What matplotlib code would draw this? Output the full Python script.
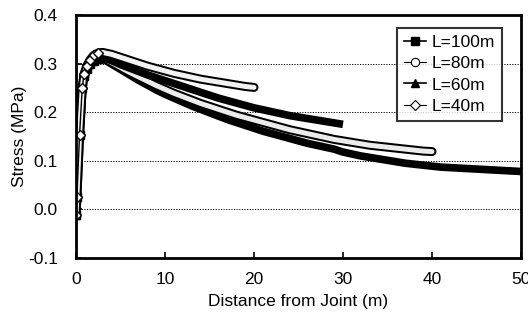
import matplotlib
matplotlib.use("Agg")
import matplotlib.pyplot as plt
import matplotlib.patheffects as pe
from matplotlib.lines import Line2D

plt.rcParams['font.family'] = ['Liberation Sans', 'DejaVu Sans']

rise_x = [0, 0.1, 0.4, 0.7, 0.9, 1.2, 1.6, 2.0, 2.5]

x100 = rise_x + list(range(3, 51))
y100 = [-0.012, 0.026, 0.154, 0.25, 0.274, 0.288, 0.299, 0.306, 0.309,
        0.310, 0.299, 0.288, 0.277, 0.266, 0.256, 0.246, 0.237, 0.229, 0.221,
        0.213, 0.206, 0.199, 0.192, 0.185, 0.179, 0.173, 0.167, 0.161, 0.156,
        0.151, 0.146, 0.141, 0.136, 0.132, 0.128, 0.124, 0.118, 0.114, 0.110,
        0.107, 0.104, 0.101, 0.098, 0.095, 0.093, 0.091, 0.089, 0.087, 0.086,
        0.085, 0.084, 0.083, 0.082, 0.081, 0.080, 0.079, 0.078]

x80 = rise_x + list(range(3, 41))
y80 = [-0.012, 0.026, 0.154, 0.25, 0.275, 0.290, 0.301, 0.308, 0.311,
       0.312, 0.302, 0.292, 0.282, 0.273, 0.264, 0.255, 0.247, 0.239, 0.232,
       0.225, 0.218, 0.212, 0.206, 0.200, 0.194, 0.189, 0.184, 0.179, 0.174,
       0.169, 0.164, 0.160, 0.156, 0.152, 0.148, 0.144, 0.141, 0.138, 0.135,
       0.132, 0.130, 0.128, 0.126, 0.124, 0.122, 0.120, 0.119]

x60 = rise_x + list(range(3, 31))
y60 = [-0.012, 0.026, 0.154, 0.25, 0.276, 0.292, 0.303, 0.310, 0.313,
       0.313, 0.306, 0.298, 0.291, 0.284, 0.277, 0.271, 0.265, 0.259, 0.253,
       0.247, 0.241, 0.235, 0.229, 0.224, 0.219, 0.214, 0.209, 0.205, 0.201,
       0.197, 0.193, 0.190, 0.187, 0.184, 0.181, 0.178, 0.175]

x40 = rise_x + list(range(3, 21))
y40 = [-0.012, 0.026, 0.154, 0.25, 0.278, 0.295, 0.308, 0.317, 0.322,
       0.323, 0.319, 0.313, 0.307, 0.301, 0.295, 0.290, 0.285, 0.280, 0.276,
       0.272, 0.268, 0.265, 0.262, 0.259, 0.256, 0.253, 0.251]

labels = ['L=100m', 'L=80m', 'L=60m', 'L=40m']
xticks = [0, 10, 20, 30, 40, 50]
yticks = [-0.1, 0.0, 0.1, 0.2, 0.3, 0.4]

fig = plt.figure(figsize=(5.28, 3.22), dpi=100)
ax = fig.add_axes([76/528, 1-258/322, (521-76)/528, (258-15)/322])

for g in [0.0, 0.1, 0.2, 0.3]:
    ax.axhline(g, color='black', lw=0.7, ls=(0, (1.2, 1.5)), zorder=1)

fs = 12.5
n_rise = len(rise_x)
early = list(range(n_rise))

# black bands
ax.plot(x100, y100, color='black', lw=5.5, solid_capstyle='butt', marker='s', ms=5.5,
        mfc='black', mec='black', markevery=early, zorder=3)
ax.plot(x60, y60, color='black', lw=5.5, solid_capstyle='butt', marker='^', ms=6,
        mfc='black', mec='black', markevery=early, zorder=5)
# open bands
open_fx = [pe.Stroke(linewidth=6.5, foreground='black'), pe.Normal()]
ax.plot(x80, y80, color='#ececec', lw=3.6, solid_capstyle='round', path_effects=open_fx,
        zorder=4)
ax.plot(x80[:n_rise], y80[:n_rise], color='black', lw=1.0, marker='o', ms=6,
        mfc='white', mec='black', mew=1.0, zorder=4.5)
ax.plot(x40, y40, color='#f2f2f2', lw=3.6, solid_capstyle='round', path_effects=open_fx,
        zorder=6)
ax.plot(x40[:n_rise], y40[:n_rise], color='black', lw=1.0, marker='D', ms=5.5,
        mfc='white', mec='black', mew=1.0, zorder=6.5)

ax.set_xlim(0, 50)
ax.set_ylim(-0.1, 0.4)
ax.set_xticks(xticks)
ax.set_yticks(yticks)
ax.set_xticklabels([str(t) for t in xticks])
ax.set_yticklabels([f"{t:.1f}" for t in yticks])
ax.tick_params(direction='in', length=4, width=1.2, labelsize=fs)
ax.tick_params(axis='y', pad=13)
ax.tick_params(axis='x', pad=10)
for s in ax.spines.values():
    s.set_linewidth(2.0)
    s.set_color('black')
    s.set_zorder(8)

ax.set_xlabel('Distance from Joint (m)', fontsize=fs, labelpad=5)
ax.set_ylabel('Stress (MPa)', fontsize=fs, labelpad=1)

handles = [
    Line2D([], [], color='black', lw=1.2, marker='s', ms=6, mfc='black', mec='black'),
    Line2D([], [], color='black', lw=0.8, marker='o', ms=6, mfc='white', mec='black', mew=0.8),
    Line2D([], [], color='black', lw=1.2, marker='^', ms=6, mfc='black', mec='black'),
    Line2D([], [], color='black', lw=0.8, marker='D', ms=5, mfc='white', mec='black', mew=0.8),
]
leg = ax.legend(handles, labels, loc='upper right', bbox_to_anchor=(502/528, 1-28/322),
                bbox_transform=fig.transFigure, fontsize=fs, frameon=True, fancybox=False,
                handlelength=1.3, handletextpad=0.3, borderpad=0.4, labelspacing=0.35,
                borderaxespad=0)
leg.get_frame().set_edgecolor('black')
leg.get_frame().set_linewidth(1.5)
leg.set_zorder(10)

fig.savefig('out.png', dpi=100)
